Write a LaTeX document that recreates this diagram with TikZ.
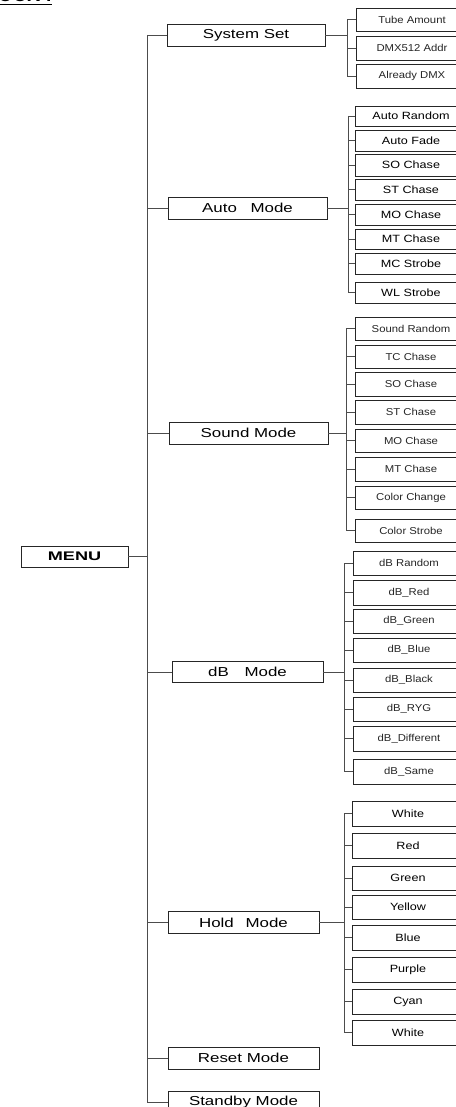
\documentclass[tikz,border=0pt]{standalone}
\usepackage{fontspec}
\setmainfont{Liberation Sans}
\newfontfamily\modefont[FakeStretch=1.3]{Liberation Sans}
\newfontfamily\menufont[FakeStretch=1.45]{Liberation Sans}
\newfontfamily\leaffont[FakeStretch=1.13]{Liberation Sans}
\newfontfamily\leafbfont[FakeStretch=1.2]{Liberation Sans}
\begin{document}
\begin{tikzpicture}[x=1pt,y=-1pt]
\tikzset{
  boxbase/.style={draw=black!85, line width=0.8pt, rectangle, inner sep=0pt, fill=white},
  modebox/.style={boxbase, minimum height=22pt, font=\modefont\fontsize{13}{13}\selectfont},
  menubox/.style={boxbase, minimum width=107pt, minimum height=21pt, font=\menufont\bfseries\fontsize{12.5}{12.5}\selectfont},
  leafbox/.style={boxbase, minimum width=112pt, text=black!85, font=\leaffont\fontsize{10}{10}\selectfont},
  leafbold/.style={leafbox, text=black, font=\leafbfont\fontsize{10.5}{10.5}\selectfont},
  conn/.style={draw=black!70, line width=0.9pt},
  titletext/.style={inner sep=0pt, anchor=base west, font=\bfseries\fontsize{19}{19}\selectfont}
}
\useasboundingbox (0,0) rectangle (455,1107);

% title fragment
\node[titletext] (title) at (-2,2) {OCK :};
\draw[line width=1.6pt] ([yshift=-2.6pt]title.base west) -- ([yshift=-2.6pt]title.base east);

% main trunk coordinates
\coordinate (trunk) at (147,0);

% menu
\node[menubox] (menu) at (74.5,556.5) {MENU};

% mode boxes
\node[modebox, minimum width=158pt] (sys) at (246,35) {System Set};
\node[modebox, minimum width=159pt] (auto) at (247.5,208) {Auto\hspace{9pt} Mode};
\node[modebox, minimum width=159pt] (snd) at (248.5,433) {Sound Mode};
\node[modebox, minimum width=151pt, minimum height=21pt] (db) at (247.5,672) {dB\hspace{11pt} Mode};
\node[modebox, minimum width=151pt] (hold) at (243.5,922.5) {Hold\hspace{7pt} Mode};
\node[modebox, minimum width=151pt] (rst) at (243.5,1058) {Reset Mode};
\node[modebox, minimum width=151pt] (stb) at (243.5,1102) {Standby Mode};

% main connectors
\draw[conn] (trunk |- sys.west) -- (trunk |- stb.west);
\draw[conn] (menu.east) -- (trunk |- menu.east);
\foreach \m in {sys,auto,snd,db,hold,rst,stb}
  \draw[conn] (trunk |- \m.west) -- (\m.west);

% ---- System Set leaves
\coordinate (sysbus) at (347,0);
\foreach \ya/\yb/\txt [count=\i] in {8/31/Tube Amount, 36/60/DMX512 Addr, 64/88/Already DMX}
  \node[leafbox, minimum height={\yb pt-\ya pt}] (sys-\i) at (412,{(\ya+\yb)/2}) {\txt};
\draw[conn] (sysbus |- sys-1.west) -- (sysbus |- sys-3.west);
\draw[conn] (sys.east) -- (sysbus |- sys.east);
\foreach \i in {1,...,3} \draw[conn] (sysbus |- sys-\i.west) -- (sys-\i.west);

% ---- Auto Mode leaves
\coordinate (autobus) at (348,0);
\foreach \ya/\yb/\txt [count=\i] in {106/126/Auto Random, 130/151/Auto Fade, 154/176/SO Chase, 179/200/ST Chase, 204/225/MO Chase, 229/249/MT Chase, 253/274/MC Strobe, 282/303/WL Strobe}
  \node[leafbold, minimum height={\yb pt-\ya pt}] (auto-\i) at (411,{(\ya+\yb)/2}) {\txt};
\draw[conn] (autobus |- auto-1.west) -- (autobus |- auto-8.west);
\draw[conn] (auto.east) -- (autobus |- auto.east);
\foreach \i in {1,...,8} \draw[conn] (autobus |- auto-\i.west) -- (auto-\i.west);

% ---- Sound Mode leaves
\coordinate (sndbus) at (346,0);
\foreach \ya/\yb/\txt [count=\i] in {317/340/Sound Random, 345/368/TC Chase, 372/396/SO Chase, 400/424/ST Chase, 429/452/MO Chase, 457/481/MT Chase, 486/509/Color Change, 519/542/Color Strobe}
  \node[leafbox, minimum height={\yb pt-\ya pt}] (snd-\i) at (411,{(\ya+\yb)/2}) {\txt};
\draw[conn] (sndbus |- snd-1.west) -- (sndbus |- snd-8.west);
\draw[conn] (snd.east) -- (sndbus |- snd.east);
\foreach \i in {1,...,8} \draw[conn] (sndbus |- snd-\i.west) -- (snd-\i.west);

% ---- dB Mode leaves
\coordinate (dbbus) at (344,0);
\foreach \ya/\yb/\txt [count=\i] in {551/575/dB Random, 580/605/dB\_Red, 609/633/dB\_Green, 638/662/dB\_Blue, 668/692/dB\_Black, 697/721/dB\_RYG, 726/751/dB\_Different, 759/784/dB\_Same}
  \node[leafbox, minimum height={\yb pt-\ya pt}] (db-\i) at (409,{(\ya+\yb)/2}) {\txt};
\draw[conn] (dbbus |- db-1.west) -- (dbbus |- db-8.west);
\draw[conn] (db.east) -- (dbbus |- db.east);
\foreach \i in {1,...,8} \draw[conn] (dbbus |- db-\i.west) -- (db-\i.west);

% ---- Hold Mode leaves
\coordinate (holdbus) at (344,0);
\foreach \ya/\yb/\txt [count=\i] in {801/826/White, 833/858/Red, 866/890/Green, 895/919/Yellow, 925/950/Blue, 957/982/Purple, 989/1014/Cyan, 1020/1045/White}
  \node[leafbold, minimum height={\yb pt-\ya pt}] (hold-\i) at (408,{(\ya+\yb)/2}) {\txt};
\draw[conn] (holdbus |- hold-1.west) -- (holdbus |- hold-8.west);
\draw[conn] (hold.east) -- (holdbus |- hold.east);
\foreach \i in {1,...,8} \draw[conn] (holdbus |- hold-\i.west) -- (hold-\i.west);
\end{tikzpicture}
\end{document}
